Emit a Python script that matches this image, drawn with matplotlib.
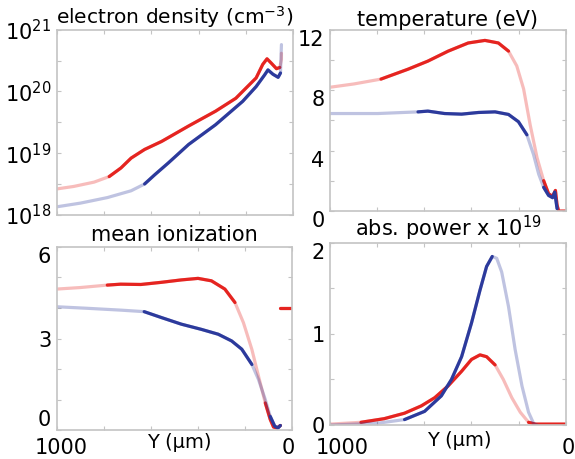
import numpy as np
import matplotlib.pyplot as plt
from matplotlib.transforms import ScaledTranslation

# distance from the target surface (um) and profiles for the two runs
# electron density, log10(cm^-3)
ne_x_red = [1000, 929, 843, 779, 729, 686, 629, 557, 443, 329, 243, 157, 129, 111, 93, 71, 57, 50, 50]
ne_red = [18.42, 18.46, 18.53, 18.62, 18.76, 18.92, 19.06, 19.19, 19.44, 19.68, 19.89, 20.22,
          20.44, 20.53, 20.46, 20.37, 20.39, 20.52, 20.62]
ne_x_blue = [1000, 900, 786, 686, 629, 586, 529, 443, 329, 214, 157, 121, 107, 86, 64, 54, 50]
ne_blue = [18.13, 18.19, 18.28, 18.39, 18.5, 18.65, 18.84, 19.14, 19.46, 19.84, 20.08, 20.27,
           20.35, 20.28, 20.23, 20.3, 20.76]

# temperature, eV
te_x_red = [1000, 898, 784, 670, 585, 499, 414, 343, 286, 243, 208, 179, 151, 122, 94, 73,
            56, 44, 37, 30, 0]
te_red = [8.2, 8.42, 8.74, 9.39, 9.93, 10.59, 11.13, 11.3, 11.13, 10.59, 9.61, 8.09, 5.7,
          3.54, 2.02, 1.15, 0.98, 1.37, 0.39, 0.0, 0.0]
te_x_blue = [1000, 798, 627, 585, 514, 442, 371, 300, 243, 201, 165, 137, 115, 94, 73, 56, 47, 37]
te_blue = [6.46, 6.46, 6.57, 6.62, 6.46, 6.42, 6.53, 6.57, 6.4, 5.92, 5.05, 3.75, 2.45, 1.58,
           1.04, 0.89, 1.26, 0.17]

# mean ionization
z_x_red = [1000, 900, 786, 729, 643, 557, 471, 400, 343, 286, 243, 207, 171, 143, 114, 93, 79, 64, 50]
z_red = [4.62, 4.67, 4.75, 4.78, 4.77, 4.84, 4.92, 4.97, 4.89, 4.62, 4.18, 3.52, 2.64, 1.77,
         0.89, 0.35, 0.1, 0.07, 0.15]
z_x_red_tail = [50, 0]
z_red_tail = [4.0, 4.0]
z_x_blue = [1000, 871, 729, 629, 557, 471, 386, 314, 257, 214, 171, 143, 114, 93, 74, 60, 50]
z_blue = [4.04, 3.99, 3.93, 3.88, 3.69, 3.47, 3.3, 3.14, 2.92, 2.65, 2.15, 1.66, 1.0, 0.45,
          0.13, 0.07, 0.15]

# absorbed power, 1e19 units
p_x_red = [1000, 869, 770, 684, 613, 556, 499, 442, 400, 364, 336, 300, 265, 229, 193, 158, 129, 0]
p_red = [0.01, 0.03, 0.07, 0.13, 0.21, 0.3, 0.43, 0.59, 0.72, 0.77, 0.75, 0.66, 0.5, 0.3,
         0.14, 0.03, 0.01, 0.01]
p_x_blue = [1000, 798, 684, 599, 528, 485, 442, 400, 364, 336, 312, 293, 272, 243, 215, 186,
            158, 137, 122]
p_blue = [0.0, 0.02, 0.06, 0.15, 0.32, 0.5, 0.75, 1.12, 1.48, 1.74, 1.85, 1.83, 1.68, 1.3,
          0.83, 0.43, 0.14, 0.02, 0.0]

RED = '#e52420'
BLUE = '#2c3a9c'
GRAY = '#c4c4c4'
FS = 15

fig = plt.figure(figsize=(5.75, 4.59), dpi=100)
ax_ne = fig.add_axes([0.099, 0.532, 0.411, 0.403])
ax_te = fig.add_axes([0.574, 0.540, 0.41, 0.395])
ax_z = fig.add_axes([0.099, 0.063, 0.409, 0.399])
ax_p = fig.add_axes([0.574, 0.074, 0.41, 0.397])


def curve(ax, x, y, color, solid=(), log=False):
    # pale line everywhere, full colour only where the mesh is dense
    x = np.asarray(x, float)
    y = np.asarray(y, float)
    if log:
        y = 10 ** y
    ax.plot(x, y, color=color, lw=2.3, alpha=0.3, solid_capstyle='round')
    for lo, hi in solid:
        m = (x >= lo) & (x <= hi)
        ax.plot(x[m], y[m], color=color, lw=2.3, solid_capstyle='round')


def frame(ax, yticks, ylabels, ylim, bottom_row, xpad=6, xshift=(0, 0)):
    ax.set_xlim(1000, 0)
    ax.set_ylim(*ylim)
    for s in ax.spines.values():
        s.set_color(GRAY)
        s.set_linewidth(1.2)
    ax.tick_params(which='both', direction='in', top=True, right=True,
                   color=GRAY, length=3, labelsize=FS)
    ax.tick_params(axis='y', pad=4)
    ax.tick_params(axis='x', pad=xpad)
    ax.minorticks_off()
    ax.set_yticks(yticks, ylabels)
    xt = [1000, 800, 600, 400, 200, 0]
    if bottom_row:
        ax.set_xticks(xt, ['1000', '', '', '', '', '0'])
        lbls = ax.get_xticklabels()
        for lbl, dx in ((lbls[0], xshift[0]), (lbls[-1], xshift[1])):
            lbl.set_transform(lbl.get_transform() +
                              ScaledTranslation(dx / 100, 0, fig.dpi_scale_trans))
    else:
        ax.set_xticks(xt, [''] * 6)


# electron density
curve(ax_ne, ne_x_red, ne_red, RED, solid=[(55, 780)], log=True)
curve(ax_ne, ne_x_blue, ne_blue, BLUE, solid=[(54, 630)], log=True)
ax_ne.set_yscale('log')
ne_ticks = [10 ** (18 + 0.5 * i) for i in range(7)]
ne_labels = ['$10^{18}$', '', '$10^{19}$', '', '$10^{20}$', '', '$10^{21}$']
frame(ax_ne, ne_ticks, ne_labels, (1e18, 1e21), False)
ax_ne.set_title('electron density (cm$^{-3}$)', fontsize=14.5, pad=3)

# temperature
curve(ax_te, te_x_red, te_red, RED, solid=[(215, 785), (0, 95)])
curve(ax_te, te_x_blue, te_blue, BLUE, solid=[(165, 630), (37, 100)])
frame(ax_te, [0, 2, 4, 6, 8, 10, 12], ['0', '', '4', '', '8', '', '12'], (0, 12), False)
for lbl in ax_te.get_yticklabels():
    lbl.set_va('top')
ax_te.set_title('temperature (eV)', fontsize=15, pad=3)

# mean ionization
curve(ax_z, z_x_red, z_red, RED, solid=[(214, 790), (50, 120)])
curve(ax_z, z_x_red_tail, z_red_tail, RED, solid=[(0, 60)])
curve(ax_z, z_x_blue, z_blue, BLUE, solid=[(165, 630), (50, 100)])
frame(ax_z, [0, 1, 2, 3, 4, 5, 6], ['0', '', '', '3', '', '', '6'], (0, 6), True,
      xpad=6, xshift=(4, -4))
ax_z.get_yticklabels()[0].set_va('bottom')
ax_z.get_yticklabels()[-1].set_va('top')
ax_z.set_title('mean ionization', fontsize=15, pad=4)

# absorbed power
curve(ax_p, p_x_red, p_red, RED, solid=[(290, 990), (0, 165)])
curve(ax_p, p_x_blue, p_blue, BLUE, solid=[(300, 730)])
frame(ax_p, [0, 0.5, 1, 1.5, 2], ['0', '', '1', '', '2'], (0, 2), True,
      xpad=9, xshift=(12, 2))
ax_p.get_yticklabels()[-1].set_va('top')
ax_p.set_title('abs. power x 10$^{19}$', fontsize=15, pad=4)

# shared axis caption under each bottom panel
for xc, yc in ((179, 442), (459, 441)):
    fig.text(xc / 575, 1 - yc / 459, 'Y (μm)', fontsize=14, ha='center', va='center')

fig.savefig('out.png', dpi=100)
